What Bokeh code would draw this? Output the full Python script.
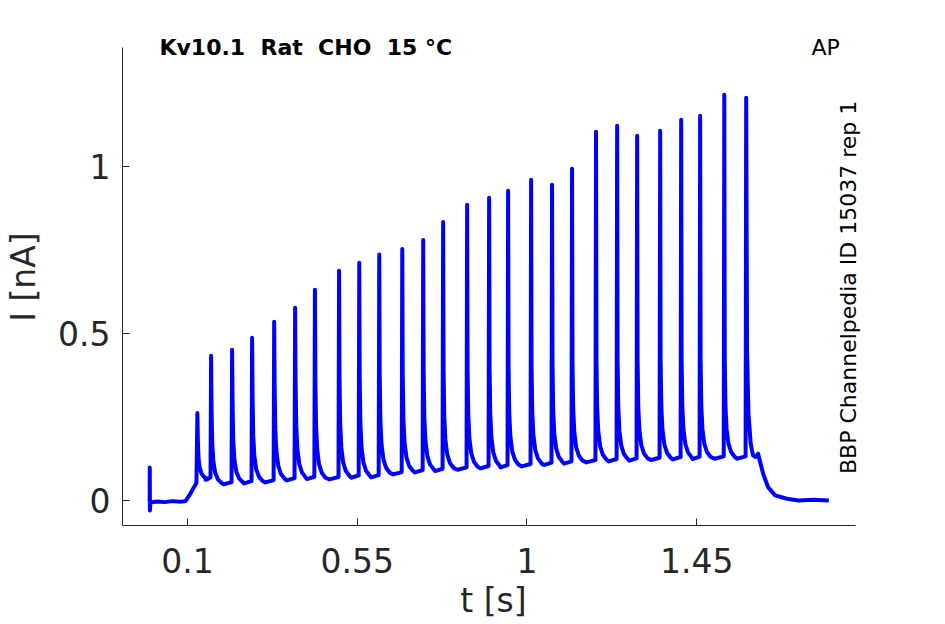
import numpy as np
from bokeh.plotting import figure
from bokeh.models import Label, Range1d, FixedTicker, CustomJSTickFormatter
from bokeh.embed import file_html
from bokeh.resources import INLINE

# ---- texts ----
# (a no-break space keeps the double spacing of the title visible in SVG)
title_text = "Kv10.1\u00a0 Rat\u00a0 CHO\u00a0 15 °C"
tag_text = "AP"
side_text = "BBP Channelpedia ID 15037 rep 1"
x_label = "t [s]"
y_label = "I [nA]"
x_ticks = [0.1, 0.55, 1.0, 1.45]
x_tick_labels = ["0.1", "0.55", "1", "1.45"]
y_ticks = [0.0, 0.5, 1.0]
y_tick_labels = ["0", "0.5", "1"]

# ---- trace values ----
# before the first action potential (capacitive artifact at t=0, baseline, onset ramp)
pre_t = [0.0, 0.0003, 0.0007, 0.002, 0.02, 0.04, 0.06, 0.08, 0.095, 0.105, 0.115, 0.124]
pre_i = [-0.005, 0.099, -0.03, -0.006, -0.003, -0.005, -0.002, -0.004, -0.002, 0.015, 0.035, 0.052]

# spike times [s] and peak currents [nA]
spike_t = [0.1265, 0.1628, 0.2185, 0.2715, 0.330, 0.3855, 0.438, 0.502, 0.5555,
           0.6085, 0.6695, 0.725, 0.7778, 0.8414, 0.8997, 0.950, 1.011, 1.0665,
           1.1195, 1.183, 1.239, 1.292, 1.353, 1.4087, 1.459, 1.523, 1.581]
spike_peak = [0.262, 0.433, 0.451, 0.487, 0.535, 0.577, 0.631, 0.688, 0.712,
              0.736, 0.753, 0.780, 0.834, 0.885, 0.906, 0.927, 0.960, 0.945,
              0.993, 1.104, 1.122, 1.092, 1.107, 1.140, 1.152, 1.215, 1.206]
# current level of the trough between consecutive spikes [nA]
trough = [0.062, 0.048, 0.051, 0.054, 0.060, 0.064, 0.063, 0.068, 0.069,
          0.078, 0.084, 0.088, 0.092, 0.096, 0.099, 0.102, 0.106, 0.110,
          0.114, 0.117, 0.119, 0.121, 0.123, 0.124, 0.125, 0.125]
# decay of a spike: time after the peak [s] and current above the trough [nA]
tail_dt = [0.0012, 0.003, 0.006, 0.011, 0.018, 0.028]
tail_excess = [0.30, 0.16, 0.09, 0.045, 0.02, 0.005]
# after the last spike (shoulder, end of stimulus and return to baseline)
post_t = [1.5833, 1.587, 1.593, 1.599, 1.606, 1.6126, 1.618, 1.626, 1.639, 1.658, 1.689, 1.72, 1.76, 1.8]
post_i = [0.45, 0.26, 0.17, 0.135, 0.13, 0.14, 0.115, 0.08, 0.04, 0.015, 0.005, 0.0, 0.002, 0.0]

# ---- assemble the polyline from the values above ----
tt = list(pre_t)
ii = list(pre_i)
n = len(spike_t)
for k in range(n):
    t0, pk = spike_t[k], spike_peak[k]
    tt.append(t0)
    ii.append(pk)
    if k < n - 1:
        b = trough[k]
        scale = min(1.0, (pk - b) / 0.5)   # small spikes have a smaller tail
        for dt, ex in zip(tail_dt, tail_excess):
            tt.append(t0 + dt)
            ii.append(b + ex * scale)
        t1 = spike_t[k + 1]
        tt.append(t0 + 0.6 * (t1 - t0))
        ii.append(b)
        tt.append(t1 - 0.0015)
        ii.append(b + 0.007)
tt += post_t
ii += post_i

# ---- figure ----
# the frame is made a little larger than the axes (top and right) so that the
# texts written next to the axes are not cut off; the axes are bounded.
x_lo, x_hi = -0.072, 1.872
y_lo, y_hi = -0.075, 1.356
W, H = 945, 624
p = figure(width=W, height=H, output_backend="svg", toolbar_location=None,
           x_range=Range1d(x_lo, 1.8946), y_range=Range1d(y_lo, 1.413),
           min_border_left=122, min_border_right=81, min_border_top=28, min_border_bottom=99)
p.outline_line_color = None
p.grid.visible = False
p.background_fill_color = "white"
p.border_fill_color = "white"

p.line(tt, ii, line_color="#0000ff", line_width=4, line_join="round")

axis_color = "#262626"
fmt_code = "const i = tv.findIndex(v => Math.abs(v - tick) < 1e-9); return i >= 0 ? tl[i] : '';"
p.xaxis.ticker = FixedTicker(ticks=x_ticks)
p.xaxis.formatter = CustomJSTickFormatter(args=dict(tv=x_ticks, tl=x_tick_labels), code=fmt_code)
p.yaxis.ticker = FixedTicker(ticks=y_ticks)
p.yaxis.formatter = CustomJSTickFormatter(args=dict(tv=y_ticks, tl=y_tick_labels), code=fmt_code)
p.xaxis.bounds = (x_lo, x_hi)
p.yaxis.bounds = (y_lo, y_hi)

for ax in (p.xaxis[0], p.yaxis[0]):
    ax.axis_line_color = axis_color
    ax.axis_line_width = 1
    ax.major_tick_line_color = axis_color
    ax.major_tick_in = 7
    ax.major_tick_out = 0
    ax.minor_tick_line_color = None
    ax.major_label_text_font = "DejaVu Sans"
    ax.major_label_text_font_size = "33px"
    ax.major_label_text_color = axis_color
    ax.axis_label_text_font = "DejaVu Sans"
    ax.axis_label_text_font_size = "33px"
    ax.axis_label_text_font_style = "normal"
    ax.axis_label_text_color = axis_color

p.xaxis.axis_label = x_label
p.yaxis.axis_label = y_label
p.xaxis.major_label_standoff = 22
p.xaxis.axis_label_standoff = 5
p.yaxis.major_label_standoff = 12
p.yaxis.axis_label_standoff = 12

p.add_layout(Label(x=0.026, y=1.356, text=title_text, text_font="DejaVu Sans",
                   text_font_size="22px", text_font_style="bold", text_color="black",
                   text_baseline="alphabetic", text_align="left"))
p.add_layout(Label(x=1.754, y=1.356, text=tag_text, text_font="DejaVu Sans",
                   text_font_size="22px", text_color="black",
                   text_baseline="alphabetic", text_align="left"))
p.add_layout(Label(x=1.852, y=0.638, text=side_text, text_font="DejaVu Sans",
                   text_font_size="22px", text_color="black", angle=np.pi / 2,
                   text_baseline="alphabetic", text_align="center"))

open("out.html", "w").write(file_html(p, INLINE))
